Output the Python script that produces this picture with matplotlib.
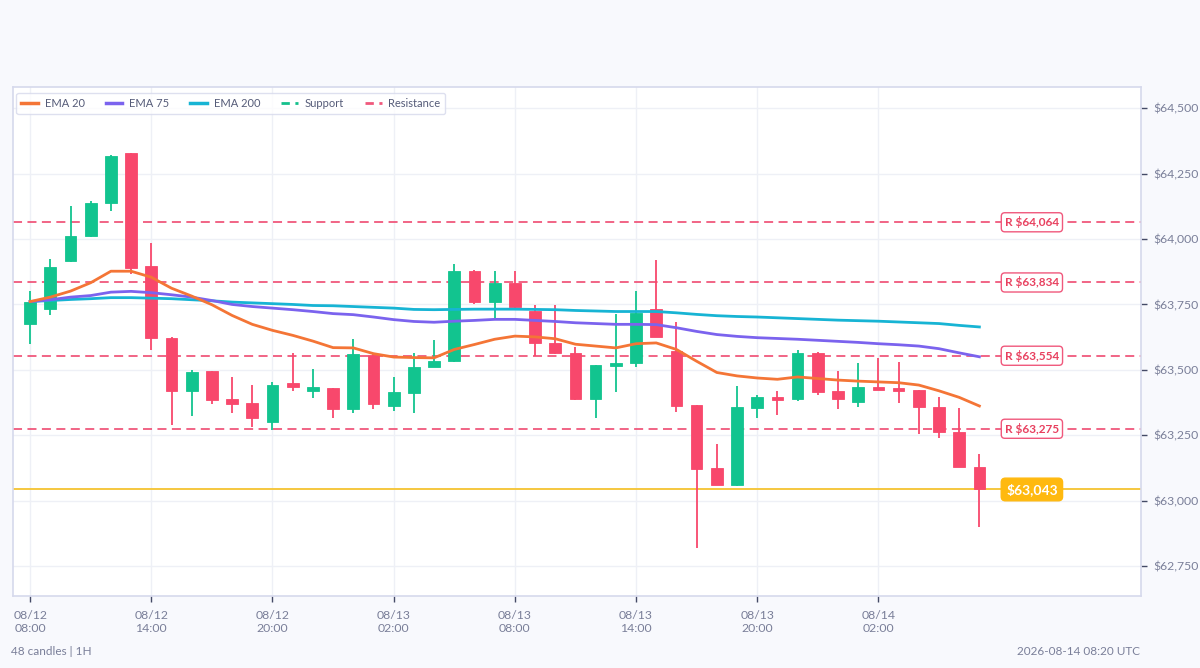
import numpy as np
import matplotlib.pyplot as plt
from matplotlib.lines import Line2D

plt.rcParams['font.family'] = ['Lato', 'DejaVu Sans']

# hourly candles, 08/12 08:00 -> 08/14 07:00
opens = [63677, 63731, 63915, 64010, 64139, 64328, 63898, 63623, 63420, 63495,
         63387, 63372, 63302, 63448, 63420, 63431, 63349, 63558, 63362, 63410,
         63511, 63534, 63877, 63761, 63833, 63724, 63604, 63563, 63388, 63515,
         63528, 63731, 63572, 63364, 63125, 63061, 63355, 63395, 63389, 63565,
         63418, 63378, 63435, 63429, 63423, 63357, 63264, 63128]
highs = [63800, 63924, 64127, 64146, 64320, 64330, 63983, 63625, 63501, 63497,
         63473, 63442, 63454, 63565, 63505, 63432, 63619, 63560, 63473, 63565,
         63613, 63905, 63883, 63877, 63879, 63746, 63746, 63587, 63518, 63715,
         63800, 63920, 63683, 63365, 63217, 63438, 63404, 63419, 63575, 63567,
         63495, 63527, 63547, 63529, 63425, 63397, 63353, 63178]
lows = [63598, 63711, 63912, 64008, 64108, 63867, 63575, 63289, 63324, 63368,
        63334, 63283, 63270, 63420, 63391, 63317, 63334, 63351, 63343, 63334,
        63510, 63530, 63753, 63699, 63738, 63552, 63560, 63386, 63317, 63416,
        63511, 63624, 63340, 62820, 63060, 63058, 63315, 63327, 63382, 63404,
        63349, 63359, 63423, 63372, 63255, 63239, 63127, 62900]
closes = [63761, 63892, 64013, 64137, 64318, 63888, 63623, 63420, 63490, 63385,
          63370, 63317, 63444, 63433, 63433, 63349, 63560, 63369, 63415, 63511,
          63534, 63877, 63761, 63833, 63740, 63604, 63563, 63388, 63518, 63528,
          63717, 63626, 63363, 63122, 63061, 63358, 63395, 63383, 63565, 63416,
          63388, 63434, 63425, 63420, 63357, 63264, 63128, 63043]

ema20 = [63761, 63778, 63801, 63833, 63877, 63877, 63854, 63812, 63782, 63749,
         63708, 63674, 63651, 63632, 63610, 63585, 63584, 63562, 63549, 63547,
         63546, 63578, 63597, 63617, 63629, 63626, 63619, 63598, 63591, 63584,
         63600, 63603, 63578, 63533, 63490, 63477, 63469, 63464, 63473, 63467,
         63461, 63457, 63454, 63451, 63442, 63420, 63395, 63362]
ema75 = [63761, 63768, 63778, 63784, 63797, 63800, 63795, 63787, 63778, 63765,
         63750, 63742, 63736, 63730, 63723, 63715, 63711, 63702, 63692, 63685,
         63682, 63686, 63689, 63693, 63693, 63689, 63685, 63680, 63677, 63674,
         63674, 63673, 63661, 63647, 63635, 63628, 63623, 63620, 63617, 63613,
         63609, 63605, 63600, 63596, 63591, 63581, 63565, 63550]
ema200 = [63761, 63765, 63769, 63772, 63776, 63776, 63774, 63772, 63768, 63764,
          63759, 63756, 63753, 63750, 63746, 63745, 63742, 63739, 63736, 63731,
          63730, 63731, 63732, 63732, 63732, 63731, 63730, 63727, 63725, 63723,
          63723, 63723, 63718, 63712, 63707, 63704, 63702, 63699, 63696, 63693,
          63690, 63688, 63686, 63683, 63680, 63677, 63670, 63664]

resistance = [64064, 63834, 63554, 63275]
last_price = 63043

xtick_pos = [0, 6, 12, 18, 24, 30, 36, 42]
xtick_labels = ['08/12\n08:00', '08/12\n14:00', '08/12\n20:00', '08/13\n02:00',
                '08/13\n08:00', '08/13\n14:00', '08/13\n20:00', '08/14\n02:00']
yticks = [62750, 63000, 63250, 63500, 63750, 64000, 64250, 64500]

up_col = '#12c48f'
down_col = '#f8486c'
c20, c75, c200 = '#f47536', '#7b63ee', '#17b4d4'
res_col = '#f0587c'
sup_col = '#14c08c'
price_col = '#f5c73f'

fig = plt.figure(figsize=(12, 6.68), dpi=100, facecolor='#f8f9fd')
ax = fig.add_axes([0.0108, 0.1078, 0.9400, 0.7620], facecolor='white')

x = np.arange(len(opens))
o = np.array(opens); c = np.array(closes)
h = np.array(highs); l = np.array(lows)
cols = np.where(c >= o, up_col, down_col)

ax.vlines(x, l, h, colors=cols, linewidth=1.3, zorder=3)
body_lo = np.minimum(o, c)
body_h = np.maximum(np.abs(c - o), 6)
ax.bar(x, body_h, bottom=body_lo, width=0.58, color=cols, edgecolor=cols,
       linewidth=0.6, zorder=4)

ax.plot(x, ema200, color=c200, lw=2, zorder=5)
ax.plot(x, ema75, color=c75, lw=2, zorder=5)
ax.plot(x, ema20, color=c20, lw=2, zorder=5)

for r in resistance:
    ax.axhline(r, color=res_col, lw=1.3, ls=(0, (5, 3)), zorder=2)
    ax.text(49.6, r, f'R ${r:,}', ha='center', va='center', fontsize=8.5,
            fontweight='bold', color='#e8405f', zorder=6,
            bbox=dict(boxstyle='round,pad=0.3,rounding_size=0.3', fc='white',
                      ec=res_col, lw=1))

ax.axhline(last_price, color=price_col, lw=1.4, zorder=2)
ax.text(49.6, last_price, f'${last_price:,}', ha='center', va='center', fontsize=10,
        fontweight='bold', color='white', zorder=6,
        bbox=dict(boxstyle='round,pad=0.35,rounding_size=0.3', fc='#ffb90f',
                  ec='#ffb90f', lw=1))

ax.set_xlim(-0.85, 55)
ax.set_ylim(62636, 64581)

ax.yaxis.tick_right()
ax.set_yticks(yticks)
ax.set_yticklabels([f'${v:,}' for v in yticks])
ax.set_xticks(xtick_pos)
ax.set_xticklabels(xtick_labels)
ax.tick_params(axis='both', colors='#444a66', labelcolor='#7a7f99', labelsize=8.8,
               length=4, width=1)
ax.tick_params(axis='y', pad=5)
ax.tick_params(axis='x', pad=6)
ax.grid(True, color='#eef0f6', lw=1, zorder=0)
ax.set_axisbelow(True)
for s in ax.spines.values():
    s.set_color('#d6d9ec')
    s.set_linewidth(1.2)

handles = [
    Line2D([], [], color=c20, lw=2.5),
    Line2D([], [], color=c75, lw=2.5),
    Line2D([], [], color=c200, lw=2.5),
    Line2D([], [], color=sup_col, lw=2, ls=(0, (3, 2))),
    Line2D([], [], color=res_col, lw=2, ls=(0, (3, 2))),
]
leg = ax.legend(handles, ['EMA 20', 'EMA 75', 'EMA 200', 'Support', 'Resistance'],
                loc='upper left', ncol=5, fontsize=8, frameon=True,
                handlelength=1.5, handletextpad=0.6, columnspacing=1.9,
                borderpad=0.45, borderaxespad=0.3, bbox_to_anchor=(0.0, 0.995))
leg.get_frame().set_edgecolor('#d6d9ec')
leg.get_frame().set_linewidth(1)
for t in leg.get_texts():
    t.set_color('#555b78')

fig.text(0.009, 0.019, '48 candles | 1H', fontsize=8.5, color='#7a7f99', ha='left')
fig.text(0.950, 0.019, '2026-08-14 08:20 UTC', fontsize=8.5, color='#7a7f99', ha='right')

fig.savefig('out.png', dpi=100, facecolor=fig.get_facecolor())
